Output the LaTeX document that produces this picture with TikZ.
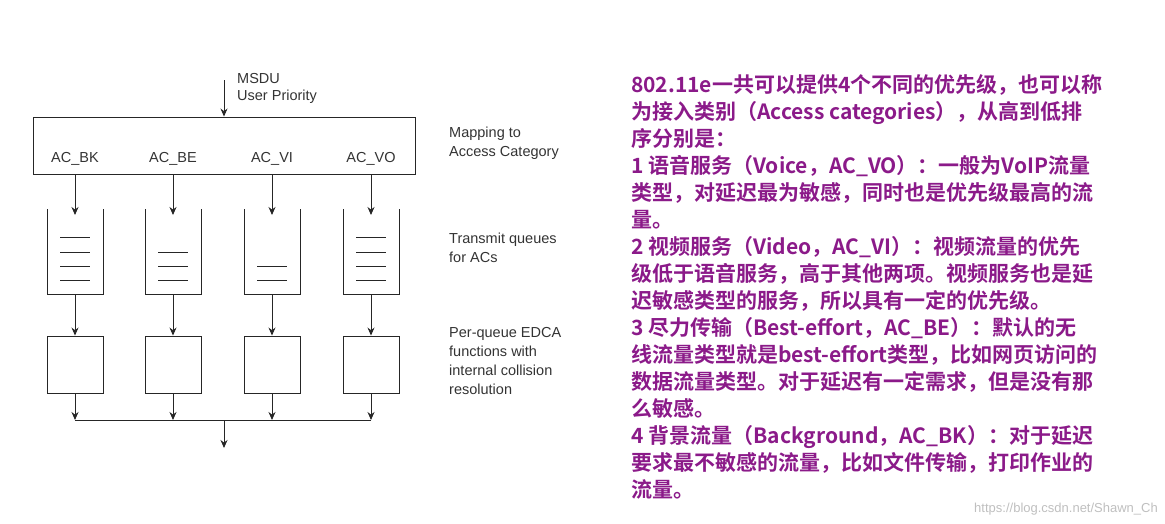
\documentclass[tikz,border=0pt]{standalone}
\usepackage{fontspec}
\usetikzlibrary{arrows.meta}
\setmainfont{Liberation Sans}
\newfontfamily\cjk{Noto Sans CJK SC}[BoldFont={Noto Sans CJK SC Bold}]
\definecolor{pur}{HTML}{8B1A89}
\begin{document}
\begin{tikzpicture}[x=1pt,y=-1pt,
 ln/.style={line width=0.9pt,draw=black!85},
 ar/.style={ln,-{Stealth[length=8pt,width=7pt]}},
 lab/.style={font=\fontsize{14.5}{18}\selectfont,text=black!80,inner sep=0},
 side/.style={lab,align=left,anchor=north west,font=\fontsize{14.5}{19}\selectfont},
 cn/.style={font=\cjk\bfseries\fontsize{21}{27}\selectfont,text=pur,anchor=base west,inner sep=0},
 box/.style={ln,minimum width=56pt,minimum height=57pt,inner sep=0}]
\useasboundingbox (0,0) rectangle (1165,523);
% top
\node[lab,anchor=west] (msdu) at (237,79) {MSDU};
\node[lab,anchor=west] (up) at (237,97) {User Priority};
\coordinate (top) at (224,80);
\node[ln,draw,minimum width=382pt,minimum height=57pt,inner sep=0] (map) at (224,145.5) {};
\draw[ar] (top) -- (map.north);
\foreach \n/\x/\t in {bk/75/AC\_BK,be/173/AC\_BE,vi/272/AC\_VI,vo/371/AC\_VO}{
  \node[lab] (l\n) at (\x,159) {\t};
  \coordinate (o\n) at (\x,174);
  \coordinate (qb\n) at (\x,294);
  \draw[ln] (\x-28,209) -- (\x-28,294) -- (\x+28,294) -- (\x+28,209);
  \draw[ar] (o\n) -- (\x,215);
  \node[box,draw] (f\n) at (\x,364.5) {};
  \draw[ar] (qb\n) -- (f\n.north);
  \coordinate (j\n) at (\x,420);
  \draw[ar] (f\n.south) -- (j\n);
}
\foreach \x/\ys in {75/{237,252,266,280},173/{252,266,280},272/{266,280},371/{237,252,266,280}}
  \foreach \y in \ys {\draw[line width=0.7pt,black!85] (\x-15,\y) -- (\x+15,\y);}
\draw[ln] (jbk) -- (jvo);
\coordinate (jc) at (224,420);
\coordinate (out) at (224,448);
\draw[ar] (jc) -- (out);
% side labels
\node[side] (s1) at (449,127) {Mapping to\\Access Category};
\node[side] (s2) at (449,233) {Transmit queues\\for ACs};
\node[side] (s3) at (449,327) {Per-queue EDCA\\functions with\\internal collision\\resolution};
% chinese text
\foreach \i/\t in {
0/802.11e一共可以提供4个不同的优先级，也可以称,
1/为接入类别（Access categories），从高到低排,
2/序分别是：,
3/1 语音服务（Voice，AC\_VO）：一般为VoIP流量,
4/类型，对延迟最为敏感，同时也是优先级最高的流,
5/量。,
6/2 视频服务（Video，AC\_VI）：视频流量的优先,
7/级低于语音服务，高于其他两项。视频服务也是延,
8/迟敏感类型的服务，所以具有一定的优先级。,
9/3 尽力传输（Best-effort，AC\_BE）：默认的无,
10/线流量类型就是best-effort类型，比如网页访问的,
11/数据流量类型。对于延迟有一定需求，但是没有那,
12/么敏感。,
13/4 背景流量（Background，AC\_BK）：对于延迟,
14/要求最不敏感的流量，比如文件传输，打印作业的,
15/流量。}
  \node[cn] (t\i) at (631,92+27*\i) {\t};
\node[font=\fontsize{13}{15}\selectfont,text=black!25,anchor=base east,inner sep=0] (wm) at (1158,512) {https://blog.csdn.net/Shawn\_Ch};
\end{tikzpicture}
\end{document}
